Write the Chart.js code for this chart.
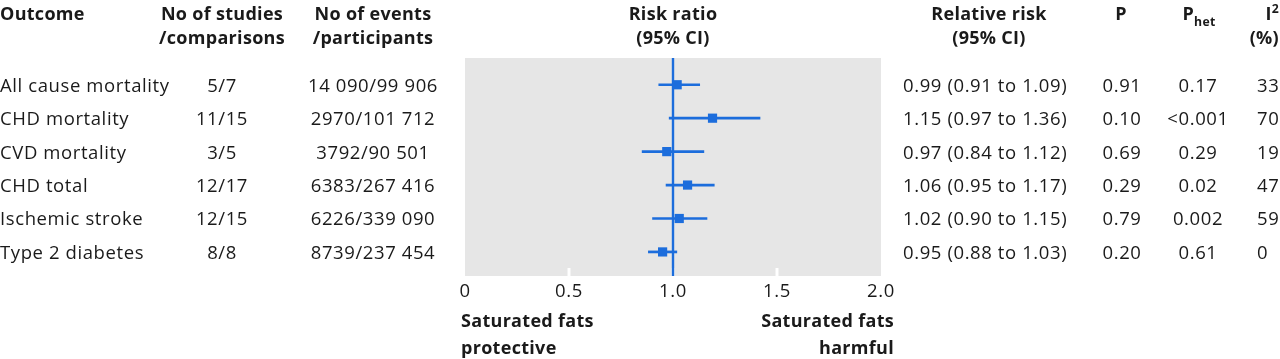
<!DOCTYPE html>
<html>
<head>
<meta charset="utf-8">
<script src="https://cdn.jsdelivr.net/npm/chart.js@4.4.1/dist/chart.umd.min.js"></script>
<style>
  html, body { margin: 0; padding: 0; background: #fff; overflow: hidden; }
  #wrap { position: relative; width: 1280px; height: 359px; font-family: 'Open Sans', sans-serif;
          font-size: 18.5px; color: #1a1a1a; letter-spacing: 0.6px; overflow: hidden; }
  #wrap canvas { position: absolute; left: 0; top: 0; }
  .t { position: absolute; white-space: nowrap; line-height: 1; transform: translateY(-50%); }
  .t.c { transform: translate(-50%, -50%); }
  .t.r { transform: translate(-100%, -50%); }
  .b { font-weight: 700; font-size: 18px; letter-spacing: 0.3px; }
  sub { font-size: 0.68em; vertical-align: -0.45em; line-height: 0; }
  sup { font-size: 0.68em; vertical-align: 0.6em; line-height: 0; }
</style>
</head>
<body>
<div id="wrap"><canvas id="chart" width="1280" height="359"></canvas></div>
<script>
// --- table columns ---
const outcomes = ['All cause mortality', 'CHD mortality', 'CVD mortality', 'CHD total', 'Ischemic stroke', 'Type 2 diabetes'];
const studies = ['5/7', '11/15', '3/5', '12/17', '12/15', '8/8'];
const events = ['14 090/99 906', '2970/101 712', '3792/90 501', '6383/267 416', '6226/339 090', '8739/237 454'];
const rrText = ['0.99 (0.91 to 1.09)', '1.15 (0.97 to 1.36)', '0.97 (0.84 to 1.12)', '1.06 (0.95 to 1.17)', '1.02 (0.90 to 1.15)', '0.95 (0.88 to 1.03)'];
const pValues = ['0.91', '0.10', '0.69', '0.29', '0.79', '0.20'];
const pHet = ['0.17', '<0.001', '0.29', '0.02', '0.002', '0.61'];
const i2 = ['33', '70', '19', '47', '59', '0'];

// --- plotted marks (as drawn in the figure) ---
const pointEst = [1.02, 1.19, 0.97, 1.07, 1.03, 0.95];
const ciLow = [0.93, 0.98, 0.85, 0.965, 0.90, 0.88];
const ciHigh = [1.13, 1.42, 1.15, 1.20, 1.165, 1.02];

const tickValues = [0, 0.5, 1, 1.5, 2];
const tickLabels = ['0', '0.5', '1.0', '1.5', '2.0'];
const refValue = 1;

const BLUE = '#1c6ddc';

const ciSets = outcomes.map((o, i) => ({
  label: o,
  data: [{ x: ciLow[i], y: i }, { x: ciHigh[i], y: i }],
  showLine: true,
  borderColor: BLUE,
  borderWidth: 2.7,
  pointRadius: 0
}));

const fondo = {
  id: 'fondo',
  beforeDatasetsDraw(chart) {
    const { ctx, chartArea: a, scales: { x } } = chart;
    ctx.save();
    ctx.fillStyle = '#e6e6e6';
    ctx.fillRect(a.left, a.top, a.right - a.left, a.bottom - a.top);
    // white tick notches inside the grey panel
    ctx.strokeStyle = '#fff';
    ctx.lineWidth = 3;
    tickValues.slice(1, -1).forEach(v => {
      const px = x.getPixelForValue(v);
      ctx.beginPath();
      ctx.moveTo(px, a.bottom - 8);
      ctx.lineTo(px, a.bottom);
      ctx.stroke();
    });
    // line of no effect
    const rx = x.getPixelForValue(refValue);
    ctx.strokeStyle = BLUE;
    ctx.lineWidth = 2.4;
    ctx.beginPath();
    ctx.moveTo(rx, a.top);
    ctx.lineTo(rx, a.bottom);
    ctx.stroke();
    ctx.restore();
  }
};

const chart = new Chart(document.getElementById('chart'), {
  type: 'scatter',
  data: {
    datasets: [
      ...ciSets,
      {
        label: 'Risk ratio',
        data: pointEst.map((v, i) => ({ x: v, y: i })),
        pointStyle: 'rect',
        pointRadius: 6.5,
        pointBackgroundColor: BLUE,
        pointBorderWidth: 0
      }
    ]
  },
  options: {
    responsive: false,
    animation: false,
    devicePixelRatio: 1,
    layout: { padding: { left: 465, right: 399, top: 58, bottom: 53 } },
    plugins: { legend: { display: false }, tooltip: { enabled: false } },
    scales: {
      x: {
        type: 'linear', min: 0, max: 2,
        grid: { display: false },
        border: { display: false },
        afterBuildTicks: s => { s.ticks = tickValues.map(v => ({ value: v })); },
        afterFit: s => { s.height = 30; },
        ticks: {
          padding: -3, color: '#1a1a1a', maxRotation: 0, autoSkip: false,
          font: { family: 'Open Sans', size: 18.5 },
          callback: (v, i) => tickLabels[i]
        }
      },
      y: { type: 'linear', display: false, reverse: true, min: -0.8, max: 5.72 }
    }
  },
  plugins: [fondo]
});

// --- text overlay ---
const wrap = document.getElementById('wrap');
const put = (html, x, y, cls) => {
  const d = document.createElement('div');
  d.className = 't ' + (cls || '');
  d.innerHTML = html;
  d.style.left = x + 'px';
  d.style.top = y + 'px';
  wrap.appendChild(d);
};

// headers
put('Outcome', 0, 13, 'b');
put('No of studies', 222, 13, 'b c');
put('/comparisons', 222, 37, 'b c');
put('No of events', 373, 13, 'b c');
put('/participants', 373, 37, 'b c');
put('Risk ratio', 673, 13, 'b c');
put('(95% CI)', 673, 37, 'b c');
put('Relative risk', 989, 13, 'b c');
put('(95% CI)', 989, 37, 'b c');
put('P', 1121, 13, 'b c');
put('P<sub>het</sub>', 1199, 13, 'b c');
put('I<sup>2</sup>', 1279, 13, 'b r');
put('(%)', 1279, 37, 'b r');

// rows
outcomes.forEach((o, i) => {
  const y = chart.scales.y.getPixelForValue(i);
  put(o, 0, y);
  put(studies[i], 222, y, 'c');
  put(events[i], 373, y, 'c');
  put(rrText[i], 903, y);
  put(pValues[i], 1122, y, 'c');
  put(pHet[i], 1198, y, 'c');
  put(i2[i], 1257, y);
});

// direction labels under the axis
put('Saturated fats', 461, 320, 'b');
put('protective', 461, 347, 'b');
put('Saturated fats', 894, 320, 'b r');
put('harmful', 894, 347, 'b r');
</script>
</body>
</html>
